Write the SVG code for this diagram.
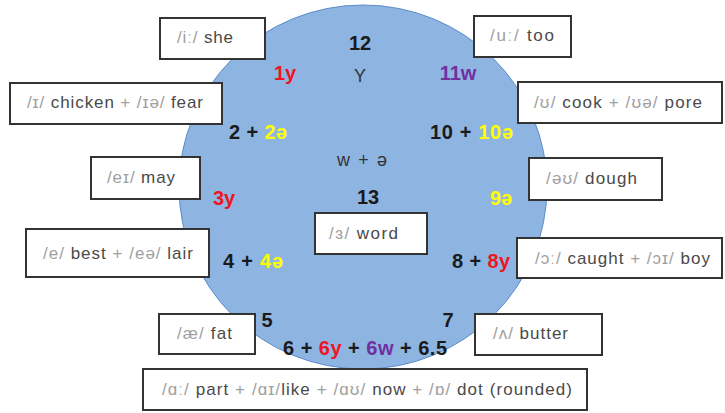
<svg xmlns="http://www.w3.org/2000/svg" width="725" height="413" viewBox="0 0 725 413">
<style>
.box{fill:#fff;stroke:#333;stroke-width:2}
.lbl{font-family:"Liberation Sans","DejaVu Sans",sans-serif;font-size:17px;fill:#4a4a4a}
.ipa{fill:#a0a0a0}
.num{font-family:"Liberation Sans","DejaVu Sans",sans-serif;font-size:20px;font-weight:bold;fill:#1a1a1a}
.reg{font-family:"Liberation Sans","DejaVu Sans",sans-serif;font-size:18px;fill:#333}
.r{fill:#f0141e}
.y{fill:#ffff00}
.p{fill:#7030a0}
</style>
<rect width="725" height="413" fill="#fff"/>
<g id="clock">
<ellipse cx="363" cy="187" rx="184" ry="182" fill="#8eb4e2" stroke="#5d8ccb" stroke-width="1"/>
<text class="num" x="360" y="50" text-anchor="middle">12</text>
<text class="reg" x="360" y="82" text-anchor="middle">Y</text>
<text class="num r" x="285" y="80" text-anchor="middle">1y</text>
<text class="num p" x="458" y="80" text-anchor="middle">11w</text>
<text class="num" x="229" y="139" textLength="58" lengthAdjust="spacing">2 + <tspan class="y">2ə</tspan></text>
<text class="num" x="430" y="139" textLength="83" lengthAdjust="spacing">10 + <tspan class="y">10ə</tspan></text>
<text class="reg" x="337" y="166" textLength="50" lengthAdjust="spacing">w + ə</text>
<text class="num r" x="224" y="205" text-anchor="middle">3y</text>
<text class="num" x="368" y="204" text-anchor="middle">13</text>
<text class="num y" x="501" y="205" text-anchor="middle">9ə</text>
<text class="num" x="223" y="268" textLength="60" lengthAdjust="spacing">4 + <tspan class="y">4ə</tspan></text>
<text class="num" x="452" y="268" textLength="58" lengthAdjust="spacing">8 + <tspan class="r">8y</tspan></text>
<text class="num" x="267" y="327" text-anchor="middle">5</text>
<text class="num" x="448" y="327" text-anchor="middle">7</text>
<text class="num" x="283" y="355" textLength="164" lengthAdjust="spacing">6 + <tspan class="r">6y</tspan> + <tspan class="p">6w</tspan> + 6.5</text>
</g>
<g id="n-she">
<rect class="box" x="160" y="18" width="105" height="41"/>
<text class="lbl" x="177" y="43" textLength="56" lengthAdjust="spacing"><tspan class="ipa">/iː/</tspan> she</text>
</g>
<g id="n-chicken">
<rect class="box" x="10" y="83" width="212" height="41"/>
<text class="lbl" x="27" y="108" textLength="176" lengthAdjust="spacing"><tspan class="ipa">/ɪ/</tspan> chicken <tspan class="ipa">+ /ɪə/</tspan> fear</text>
</g>
<g id="n-too">
<rect class="box" x="474" y="16" width="97" height="41"/>
<text class="lbl" x="490" y="41" textLength="64" lengthAdjust="spacing"><tspan class="ipa">/uː/</tspan> too</text>
</g>
<g id="n-cook">
<rect class="box" x="518" y="82" width="204" height="41"/>
<text class="lbl" x="534" y="108" textLength="168" lengthAdjust="spacing"><tspan class="ipa">/ʊ/</tspan> cook <tspan class="ipa">+ /ʊə/</tspan> pore</text>
</g>
<g id="n-may">
<rect class="box" x="91" y="157" width="109" height="42"/>
<text class="lbl" x="107" y="183" textLength="68" lengthAdjust="spacing"><tspan class="ipa">/eɪ/</tspan> may</text>
</g>
<g id="n-best">
<rect class="box" x="26" y="229" width="183" height="48"/>
<text class="lbl" x="43" y="259" textLength="150" lengthAdjust="spacing"><tspan class="ipa">/e/</tspan> best <tspan class="ipa">+ /eə/</tspan> lair</text>
</g>
<g id="n-word">
<rect class="box" x="315" y="213" width="112" height="41"/>
<text class="lbl" x="329" y="239" textLength="69" lengthAdjust="spacing"><tspan class="ipa">/ɜ/</tspan> word</text>
</g>
<g id="n-dough">
<rect class="box" x="529" y="158" width="133" height="42"/>
<text class="lbl" x="546" y="184" textLength="91" lengthAdjust="spacing"><tspan class="ipa">/əʊ/</tspan> dough</text>
</g>
<g id="n-caught">
<rect class="box" x="517" y="238" width="205" height="40"/>
<text class="lbl" x="535" y="264" textLength="175" lengthAdjust="spacing"><tspan class="ipa">/ɔː/</tspan> caught <tspan class="ipa">+ /ɔɪ/</tspan> boy</text>
</g>
<g id="n-fat">
<rect class="box" x="159" y="314" width="96" height="40"/>
<text class="lbl" x="177" y="339" textLength="55" lengthAdjust="spacing"><tspan class="ipa">/æ/</tspan> fat</text>
</g>
<g id="n-butter">
<rect class="box" x="475" y="314" width="127" height="41"/>
<text class="lbl" x="493" y="339" textLength="75" lengthAdjust="spacing"><tspan class="ipa">/ʌ/</tspan> butter</text>
</g>
<g id="n-part">
<rect class="box" x="143" y="369" width="444" height="41"/>
<text class="lbl" x="162" y="395" textLength="410" lengthAdjust="spacing"><tspan class="ipa">/ɑː/</tspan> part <tspan class="ipa">+ /ɑɪ/</tspan>like <tspan class="ipa">+ /ɑʊ/</tspan> now <tspan class="ipa">+ /ɒ/</tspan> dot (rounded)</text>
</g>
</svg>
